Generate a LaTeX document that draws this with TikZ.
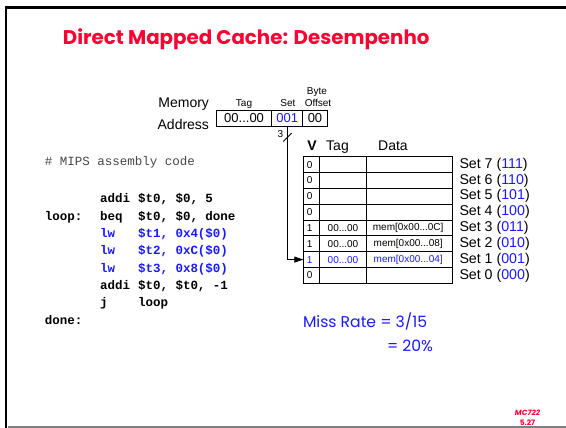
\documentclass[tikz,border=0pt]{standalone}
\usepackage{fontspec}
\setmainfont{Liberation Sans}
\setmonofont{Liberation Mono}
\newfontfamily\comic{Poppins}
\usetikzlibrary{arrows.meta}
\definecolor{titlered}{RGB}{255,0,51}
\definecolor{hiblue}{RGB}{25,25,255}
\definecolor{commentgray}{RGB}{70,70,70}

\newcommand{\fs}[1]{\fontsize{#1}{#1}\selectfont}

\begin{document}
\begin{tikzpicture}[x=1pt,y=-1pt,
  every node/.style={inner sep=0pt, outer sep=0pt},
  addrcell/.style={draw, line width=0.8pt, minimum height=15.5pt, font=\fs{13}, anchor=north west},
  smalllbl/.style={font=\fs{10}, anchor=base},
  cellrow/.style={draw, line width=0.8pt, minimum height=15.83pt, anchor=north west},
  celltxt/.style={font=\fs{10}, anchor=center},
  setlbl/.style={font=\fs{14.2}, anchor=west},
  code/.style={font=\ttfamily\bfseries\fs{12.5}, anchor=base west},
  codeblue/.style={code, text=hiblue},
  wire/.style={line width=0.8pt}
]
\useasboundingbox (0,0) rectangle (566,428);

% slide frame
\draw[line width=2.6pt] (6,428) -- (6,7.5) -- (566,7.5);
\draw[gray, line width=1.4pt] (7.5,427) -- (566,427);

% title
\node[anchor=base west, font=\comic\bfseries\fs{19.8}, text=titlered] (title) at (63,45) {Direct Mapped Cache: Desempenho};

% memory address
\node[font=\fs{14}, anchor=base east] (mem) at (209,108) {Memory};
\node[font=\fs{14}, anchor=base east] (addr) at (209,130) {Address};
\node[addrcell, minimum width=55.2pt] (atag) at (216.5,110.5) {00...00};
\node[addrcell, minimum width=31pt, text=hiblue] (aset) at (271.7,110.5) {001};
\node[addrcell, minimum width=24.6pt] (aoff) at (302.7,110.5) {00};
\node[smalllbl] (ltag) at (244,107) {Tag};
\node[smalllbl] (lset) at (288,107) {Set};
\node[smalllbl] (lbyte) at (317,94.5) {Byte};
\node[smalllbl] (loff) at (318,107) {Offset};

% cache table
\def\rh{15.83}
\foreach \i in {0,...,7} {
  \node[cellrow, minimum width=16pt] (v\i) at (303.3,156.7+\i*\rh) {};
  \node[cellrow, minimum width=47.4pt] (t\i) at (319.3,156.7+\i*\rh) {};
  \node[cellrow, minimum width=86pt] (d\i) at (366.7,156.7+\i*\rh) {};
}
\foreach \i/\v in {0/0,1/0,2/0,3/0,4/1,5/1,7/0} {
  \node[celltxt, anchor=west] at ([xshift=3.5pt]v\i.west) {\v};
}
\node[celltxt, anchor=west, text=hiblue] at ([xshift=3.5pt]v6.west) {1};
\node[celltxt] at (t4.center) {00...00};
\node[celltxt] at (t5.center) {00...00};
\node[celltxt, text=hiblue] at (t6.center) {00...00};
\node[celltxt] at ([xshift=-1.5pt]d4.center) {mem[0x00...0C]};
\node[celltxt] at ([xshift=-1.5pt]d5.center) {mem[0x00...08]};
\node[celltxt, text=hiblue] at ([xshift=-1.5pt]d6.center) {mem[0x00...04]};

% column headings
\node[font=\bfseries\fs{14}, anchor=base] (hv) at (312,150.5) {V};
\node[font=\fs{14}, anchor=base] (htag) at (337.5,150.5) {Tag};
\node[font=\fs{14}, anchor=base] (hdata) at (393,150.5) {Data};

% set labels
\foreach \i/\n/\b in {0/7/111,1/6/110,2/5/101,3/4/100,4/3/011,5/2/010,6/1/001,7/0/000} {
  \node[setlbl] (s\i) at (459.5,156.7+\i*\rh+\rh/2) {Set \n\ (\textcolor{hiblue}{\b})};
}

% set index wire
\coordinate (bend) at (aset.south |- v6.west);
\draw[wire, -{Triangle[length=9pt,width=6pt]}] (aset.south) -- (bend) -- (v6.west);
\draw[wire] (283.3,141.5) -- (291.7,133);
\node[font=\fs{10}] (nbits) at (280.5,134.5) {3};

% assembly code
\node[font=\ttfamily\fs{12.5}, text=commentgray, anchor=base west] (cmt) at (45,166) {\# MIPS assembly code};
\node[code] (op1) at (100,203) {addi};  \node[code] (ar1) at (138,203) {\$t0, \$0, 5};
\node[code] (lb2) at (45,220.3) {loop:};
\node[code] (op2) at (100,220.3) {beq};   \node[code] (ar2) at (138,220.3) {\$t0, \$0, done};
\node[codeblue] (op3) at (100,237.6) {lw};  \node[codeblue] (ar3) at (138,237.6) {\$t1, 0x4(\$0)};
\node[codeblue] (op4) at (100,254.9) {lw};  \node[codeblue] (ar4) at (138,254.9) {\$t2, 0xC(\$0)};
\node[codeblue] (op5) at (100,272.2) {lw};  \node[codeblue] (ar5) at (138,272.2) {\$t3, 0x8(\$0)};
\node[code] (op6) at (100,289.5) {addi};  \node[code] (ar6) at (138,289.5) {\$t0, \$t0, -1};
\node[code] (op7) at (100,306.8) {j};     \node[code] (ar7) at (138,306.8) {loop};
\node[code] (lb8) at (45,324.1) {done:};

% miss rate
\node[font=\comic\fs{15.6}, text=hiblue, anchor=base west] (mr1) at (303,327) {Miss Rate = 3/15};
\node[font=\comic\fs{15.6}, text=hiblue, anchor=base west] (mr2) at (387,351) {= 20\%};

% slide number
\node[font=\comic\bfseries\itshape\fs{7.5}, text=titlered, anchor=base] (mc) at (527.5,415) {MC722};
\node[font=\comic\bfseries\fs{7.5}, text=titlered, anchor=base] (pg) at (527.5,425.5) {5.27};
\end{tikzpicture}
\end{document}
